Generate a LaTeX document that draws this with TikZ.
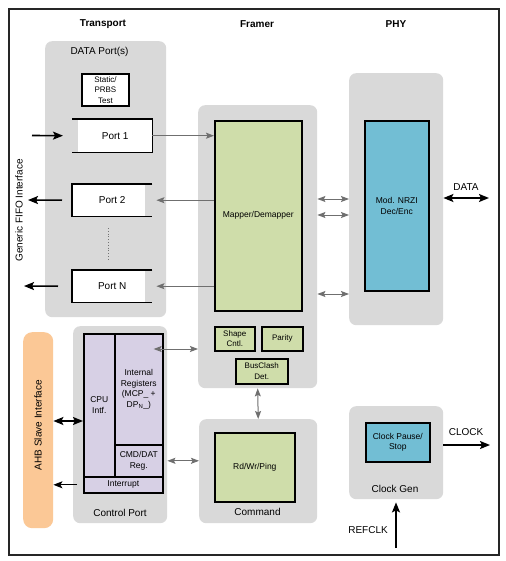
\documentclass[tikz,border=0pt]{standalone}
\usepackage{fontspec}
\setmainfont{Liberation Sans}
\usetikzlibrary{arrows.meta,calc}
\definecolor{grpgray}{HTML}{D9D9D9}
\definecolor{arrgray}{HTML}{6F6F6F}
\definecolor{mapgreen}{HTML}{CFDDAA}
\definecolor{phyblue}{HTML}{72BED4}
\definecolor{regpurple}{HTML}{D7D0E5}
\definecolor{ahborange}{HTML}{FBC896}
\tikzset{
  wh/.style 2 args={minimum width=#1pt, minimum height=#2pt},
  grp/.style={fill=grpgray, rounded corners=7pt, inner sep=0pt, anchor=north west},
  box/.style={draw=black, line width=1.6pt, inner sep=0pt, anchor=north west, align=center, font=\fontsize{8.5}{10.5}\selectfont},
  small/.style={font=\fontsize{8}{10.5}\selectfont},
  lbl/.style={inner sep=0pt, font=\fontsize{10}{12}\selectfont, align=center},
  title/.style={inner sep=0pt, font=\bfseries\fontsize{10}{12}\selectfont},
  portline/.style={line width=1.6pt},
  garr/.style={draw=arrgray, line width=1pt, -{Stealth[length=8pt,width=6pt,inset=1.5pt]}},
  garrb/.style={draw=arrgray, line width=1pt, {Stealth[length=8pt,width=6pt,inset=1.5pt]}-{Stealth[length=8pt,width=6pt,inset=1.5pt]}},
  barr/.style={line width=1.6pt, -{Stealth[length=10pt,width=8pt,inset=2pt]}},
  barrb/.style={line width=1.6pt, {Stealth[length=10pt,width=8pt,inset=2pt]}-{Stealth[length=10pt,width=8pt,inset=2pt]}},
  tarr/.style={line width=1.1pt, -{Stealth[length=9pt,width=7pt,inset=2pt]}},
}
\begin{document}
\begin{tikzpicture}[x=1pt,y=-1pt]
\useasboundingbox (0,0) rectangle (505,561);
\fill[white] (0,0) rectangle (505,561);
\draw[line width=1.4pt, draw=black!85] (9,9) rectangle (499,555);

% titles
\node[title] (tTr) at (103,24) {Transport};
\node[title] (tFr) at (257,24) {Framer};
\node[title] (tPhy) at (396,24) {PHY};

% groups
\node[grp, wh={121}{276}] (dp) at (45,41) {};
\node[grp, wh={119}{283}] (fr) at (198,105) {};
\node[grp, wh={94}{252}] (phy) at (349,73) {};
\node[grp, wh={94}{197}] (cp) at (73,326) {};
\node[grp, wh={118}{104}] (cmd) at (199,419) {};
\node[grp, wh={94}{93}] (cg) at (349,406) {};
\node[grp, fill=ahborange, rounded corners=9pt, wh={30}{196}] (ahb) at (23,332) {};

% group labels
\node[lbl] (dpl) at (99.5,52) {DATA Port(s)};
\node[lbl] (cpl) at (120,513) {Control Port};
\node[lbl] (cmdl) at (257.5,512) {Command};
\node[lbl] (cgl) at (395,489) {Clock Gen};
\node[lbl, rotate=90] (ahbl) at (38,425) {AHB Slave Interface};
\node[lbl, rotate=90] (fifol) at (19,210.5) {Generic FIFO Interface};

% boxes
\node[box, small, fill=white, line width=1.8pt, wh={47}{32}] (test) at (81,73) {Static/\\PRBS\\Test};
\node[box, fill=mapgreen, wh={87}{190}] (mapper) at (214,120) {Mapper/Demapper};
\node[box, fill=phyblue, wh={64}{170}] (mod) at (364,120) {Mod. NRZI\\Dec/Enc};
\node[box, small, fill=mapgreen, wh={40}{24}] (shape) at (214,326) {Shape\\Cntl.};
\node[box, small, fill=mapgreen, wh={41}{24}] (parity) at (261,326) {Parity};
\node[box, small, fill=mapgreen, wh={52}{25}] (bus) at (235,358) {BusClash\\Det.};
\node[box, fill=mapgreen, wh={80}{69}] (rdwr) at (214,432) {Rd/Wr/Ping};
\node[box, fill=phyblue, wh={64}{39}] (clk) at (365,422) {Clock Pause/\\Stop};
\node[box, fill=regpurple, wh={31}{143}] (cpu) at (83,333) {CPU\\Intf.};
\node[box, fill=regpurple, wh={48}{111}] (ireg) at (114,333) {Internal\\Registers\\(MCP\_ +\\DP\textsubscript{N}\_)};
\node[box, fill=regpurple, wh={48}{32}] (cmddat) at (114,444) {CMD/DAT\\Reg.};
\node[box, fill=regpurple, wh={79}{16}] (intr) at (83,476) {Interrupt};

% ports (FIFO shapes)
\fill[white] (78,119) rectangle (152,152);
\fill[white] (72,184) rectangle (145,216);
\fill[white] (72,270) rectangle (145,302);
\node[lbl, wh={80}{33}, anchor=north west] (p1) at (72,119) {\hspace*{6pt}Port 1};
\node[lbl, wh={80}{32}, anchor=north west] (p2) at (72,184) {Port 2};
\node[lbl, wh={80}{32}, anchor=north west] (pN) at (72,270) {Port N};
\draw[portline] (p1.north west) -- (p1.north east) -- (p1.south east) -- (p1.south west);
\draw[portline] (p2.north east) -- (p2.north west) -- (p2.south west) -- (p2.south east);
\draw[portline] (pN.north east) -- (pN.north west) -- (pN.south west) -- (pN.south east);
\draw[line width=0.8pt, draw=black!55, dotted] (108,228) -- (108,260);

% FIFO side arrows
\coordinate (in1) at (32,135.5);
\coordinate (out2) at (28,200);
\coordinate (outN) at (24,286);
\draw[barr] (in1) -- ([xshift=-9pt]p1.west);
\draw[barr] ([xshift=-10pt]p2.west) -- (out2);
\draw[barr] ([xshift=-14pt]pN.west) -- (outN);

% ports <-> mapper
\draw[garr] (p1.east) -- (p1.east -| mapper.west);
\draw[garr] (mapper.west |- p2.east) -- ([xshift=4pt]p2.east);
\draw[garr] (mapper.west |- pN.east) -- ([xshift=4pt]pN.east);

% framer <-> phy
\draw[garrb] (fr.east |- 0,199) -- (phy.west |- 0,199);
\draw[garrb] (fr.east |- 0,215) -- (phy.west |- 0,215);
\draw[garrb] (fr.east |- 0,294) -- (phy.west |- 0,294);

% DATA
\coordinate (dataR) at (489,198);
\draw[barrb] (phy.east |- dataR) -- (dataR);
\node[lbl] (datal) at (466,187) {DATA};

% control port <-> framer / command
\draw[garrb] ([xshift=-10pt]ireg.east |- 0,349) -- (fr.west |- 0,349);
\draw[garrb] (cp.east |- cmddat) -- (cmd.west |- cmddat);
\draw[garrb] (fr.south) -- (cmd.north);

% AHB
\draw[barrb] (ahb.east |- 0,421) -- (cpu.west |- 0,421);
\draw[tarr] ([xshift=-6pt]intr.west) -- (ahb.east |- intr.west);

% clock
\coordinate (clkR) at (490,445);
\draw[barr] (cg.east |- clkR) -- (clkR);
\node[lbl] (clockl) at (466,432) {CLOCK};
\coordinate (refB) at (396,548);
\draw[barr] (refB) -- ([yshift=-3pt]cg.south -| refB);
\node[lbl] (refl) at (368,530) {REFCLK};
\end{tikzpicture}
\end{document}
